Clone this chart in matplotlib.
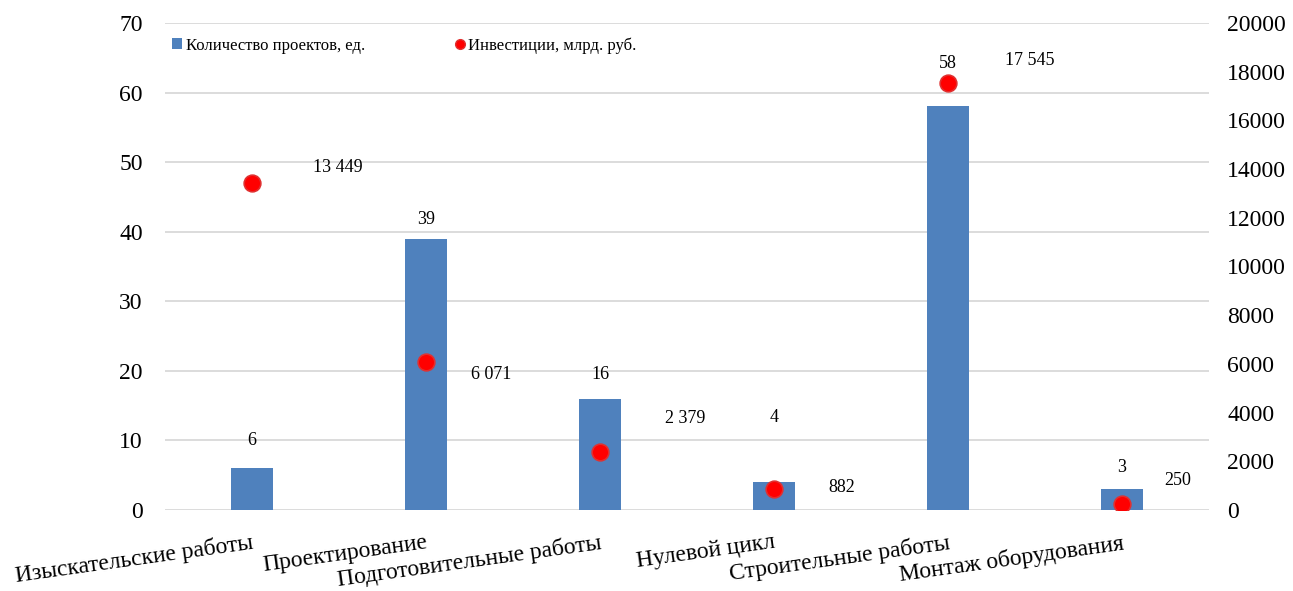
import matplotlib
matplotlib.use("Agg")
import matplotlib.pyplot as plt
from matplotlib.patches import Rectangle
from matplotlib.lines import Line2D
import numpy as np

categories = ["Изыскательские работы", "Проектирование", "Подготовительные работы",
              "Нулевой цикл", "Строительные работы", "Монтаж оборудования"]
projects = [6, 39, 16, 4, 58, 3]
investments = [13449, 6071, 2379, 882, 17545, 250]
left_ticks = [0, 10, 20, 30, 40, 50, 60, 70]
right_ticks = [0, 2000, 4000, 6000, 8000, 10000, 12000, 14000, 16000, 18000, 20000]

# label offsets (pixels) - layout only
bar_label_dy = [28, 19, 24, 65, 43, 22]
inv_label_off = [(86, 15), (65, -12), (85, 34), (68, 1), (82, 22), (56, 23)]

plt.rcParams['font.family'] = ['Liberation Serif', 'DejaVu Serif']

BAR = '#4F81BD'
RED = '#FF0000'
GRID = '#D9D9D9'

fig = plt.figure(figsize=(12.93, 5.91), dpi=100)
ax = fig.add_axes([165/1293, 1 - 510/591, (1209-165)/1293, (510-23)/591])
ax2 = ax.twinx()

x = np.arange(len(categories))
ax.bar(x, projects, width=0.24, color=BAR, zorder=2)
ax.set_ylim(0, 70)
ax.set_xlim(-0.5, len(categories) - 0.5)
ax.set_yticks(left_ticks)
ax.grid(axis='y', color=GRID, linewidth=1.3, zorder=0)
ax.set_axisbelow(True)

ax2.plot(x, investments, linestyle='none', marker='o', markersize=12,
         markerfacecolor=RED, markeredgecolor='#E03030', markeredgewidth=1.2, zorder=5)
ax2.set_ylim(0, 20000)
ax2.set_yticks(right_ticks)

for a in (ax, ax2):
    for s in a.spines.values():
        s.set_visible(False)
    a.tick_params(axis='y', length=0, labelsize=17, colors='black')
ax.tick_params(axis='y', pad=16)
ax2.tick_params(axis='y', pad=13)
ax.tick_params(axis='x', length=0, pad=16)

ax.set_xticks(x)
ax.set_xticklabels(categories, rotation=8, ha='right', va='top',
                   rotation_mode='anchor', fontsize=17)

for xi, v, dy in zip(x, projects, bar_label_dy):
    ax.annotate(f"{v}", (xi, v), xytext=(0, dy), textcoords='offset pixels',
                ha='center', va='center', fontsize=13)

for xi, v, (dx, dy) in zip(x, investments, inv_label_off):
    ax2.annotate(f"{v:,}".replace(",", " "), (xi, v), xytext=(dx, dy),
                 textcoords='offset pixels', ha='center', va='center', fontsize=13)

handles = [Rectangle((0, 0), 1, 1, facecolor=BAR),
           Line2D([], [], linestyle='none', marker='o', markersize=7,
                  markerfacecolor=RED, markeredgecolor='#E03030')]
leg = ax.legend(handles, ["Количество проектов, ед.", "Инвестиции, млрд. руб."],
                loc='upper left', bbox_to_anchor=(-0.004, 0.995), ncol=2, frameon=False,
                fontsize=12, handlelength=0.6, handleheight=0.6, handletextpad=0.2,
                columnspacing=5.4, borderaxespad=0.3)

fig.savefig("out.png", dpi=100)
